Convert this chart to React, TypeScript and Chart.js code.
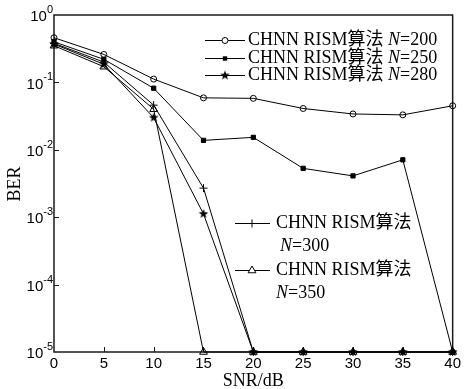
import React, { useEffect, useRef } from 'react';
import { Chart, registerables } from 'chart.js';
Chart.register(...registerables);

const snr = [0, 5, 10, 15, 20, 25, 30, 35, 40];
const ber200 = [0.46, 0.26, 0.112, 0.059, 0.058, 0.041, 0.034, 0.033, 0.045];
const ber250 = [0.4, 0.22, 0.082, 0.0138, 0.0153, 0.0053, 0.0041, 0.0071, 1e-5];
const ber280 = [0.37, 0.186, 0.03, 0.00112, 1e-5, 1e-5, 1e-5, 1e-5, 1e-5];
const ber300 = [0.38, 0.2, 0.046, 0.0027, 1e-5, 1e-5, 1e-5, 1e-5, 1e-5];
const ber350 = [0.35, 0.171, 0.04, 1e-5, 1e-5, 1e-5, 1e-5, 1e-5, 1e-5];
const yDecades = [0, -1, -2, -3, -4, -5];
const xTicks = [0, 5, 10, 15, 20, 25, 30, 35, 40];
const legendTop = ['200', '250', '280'];
const legendBottom = ['300', '350'];
const algName = 'CHNN RISM算法';

const SERIF = '"Liberation Serif", "Times New Roman", "Noto Sans CJK SC", serif';
const SANS = '"Liberation Sans", Arial, sans-serif';

function makeStar(): HTMLCanvasElement {
  const c = document.createElement('canvas');
  c.width = 12;
  c.height = 12;
  const g = c.getContext('2d')!;
  g.fillStyle = '#000';
  g.beginPath();
  for (let i = 0; i < 10; i++) {
    const r = i % 2 === 0 ? 5 : 2.1;
    const a = -Math.PI / 2 + (i * Math.PI) / 5;
    const px = 6 + r * Math.cos(a);
    const py = 6 + r * Math.sin(a);
    if (i === 0) g.moveTo(px, py);
    else g.lineTo(px, py);
  }
  g.closePath();
  g.fill();
  return c;
}

function drawMarker(ctx: CanvasRenderingContext2D, kind: string, x: number, y: number, star: HTMLCanvasElement) {
  ctx.save();
  ctx.strokeStyle = '#000';
  ctx.fillStyle = '#000';
  ctx.lineWidth = 1;
  ctx.beginPath();
  if (kind === 'circle') {
    ctx.arc(x, y, 3, 0, Math.PI * 2);
    ctx.fillStyle = '#fff';
    ctx.fill();
    ctx.stroke();
  } else if (kind === 'rect') {
    ctx.fillRect(x - 2.2, y - 2.2, 4.4, 4.4);
  } else if (kind === 'star') {
    ctx.drawImage(star, x - 6, y - 6);
  } else if (kind === 'cross') {
    ctx.moveTo(x - 4, y);
    ctx.lineTo(x + 4, y);
    ctx.moveTo(x, y - 4);
    ctx.lineTo(x, y + 4);
    ctx.stroke();
  } else if (kind === 'triangle') {
    const r = 4.5;
    let a = 0;
    ctx.moveTo(x + Math.sin(a) * r, y - Math.cos(a) * r);
    a += (2 * Math.PI) / 3;
    ctx.lineTo(x + Math.sin(a) * r, y - Math.cos(a) * r);
    a += (2 * Math.PI) / 3;
    ctx.lineTo(x + Math.sin(a) * r, y - Math.cos(a) * r);
    ctx.closePath();
    ctx.fillStyle = '#fff';
    ctx.fill();
    ctx.stroke();
  }
  ctx.restore();
}

function drawNLabel(ctx: CanvasRenderingContext2D, x: number, y: number, prefix: string, val: string) {
  ctx.save();
  ctx.fillStyle = '#000';
  ctx.textBaseline = 'middle';
  ctx.textAlign = 'left';
  let cx = x;
  if (prefix) {
    ctx.font = `18px ${SERIF}`;
    ctx.fillText(prefix, cx, y);
    cx += ctx.measureText(prefix).width;
  }
  ctx.font = `italic 18px ${SERIF}`;
  ctx.fillText('N', cx, y);
  cx += ctx.measureText('N').width;
  ctx.font = `18px ${SERIF}`;
  ctx.fillText('=' + val, cx, y);
  ctx.restore();
}

export default function App() {
  const ref = useRef<HTMLCanvasElement>(null);
  useEffect(() => {
    const star = makeStar();
    const series = [
      { n: '200', data: ber200, style: 'circle', radius: 3, bg: 'rgba(255,255,255,0)' },
      { n: '250', data: ber250, style: 'rect', radius: 3, bg: '#000' },
      { n: '280', data: ber280, style: star as any, radius: 5, bg: '#000' },
      { n: '300', data: ber300, style: 'cross', radius: 4, bg: 'rgba(0,0,0,0)' },
      { n: '350', data: ber350, style: 'triangle', radius: 4.5, bg: 'rgba(255,255,255,0)' },
    ];
    const markerKinds: Record<string, string> = { '200': 'circle', '250': 'rect', '280': 'star', '300': 'cross', '350': 'triangle' };

    const framePlugin = {
      id: 'frame',
      beforeDatasetsDraw(chart: any) {
        const ctx = chart.ctx as CanvasRenderingContext2D;
        const { left, right, top, bottom } = chart.chartArea;
        const xs = chart.scales.x;
        const ys = chart.scales.y;
        ctx.save();
        ctx.strokeStyle = '#1a1a1a';
        ctx.lineWidth = 1.5;
        ctx.strokeRect(left, top, right - left, bottom - top);
        ctx.lineWidth = 1;
        ctx.beginPath();
        xTicks.slice(1, -1).forEach((v) => {
          const px = Math.round(xs.getPixelForValue(v)) + 0.5;
          ctx.moveTo(px, bottom);
          ctx.lineTo(px, bottom - 5);
        });
        yDecades.slice(1, -1).forEach((e) => {
          const py = Math.round(ys.getPixelForValue(Math.pow(10, e))) + 0.5;
          ctx.moveTo(left, py);
          ctx.lineTo(left + 5, py);
        });
        ctx.stroke();
        ctx.restore();
      },
      afterDraw(chart: any) {
        const ctx = chart.ctx as CanvasRenderingContext2D;
        const { left, right } = chart.chartArea;
        const ys = chart.scales.y;
        ctx.save();
        ctx.fillStyle = '#000';
        yDecades.forEach((e) => {
          const py = ys.getPixelForValue(Math.pow(10, e));
          const exp = String(e);
          ctx.font = `11px ${SANS}`;
          const ew = ctx.measureText(exp).width;
          ctx.textAlign = 'right';
          ctx.textBaseline = 'middle';
          ctx.fillText(exp, left - 1, py - 5);
          ctx.font = `15px ${SANS}`;
          ctx.fillText('10', left - 1 - ew, py + 2);
        });
        ctx.font = `18px ${SERIF}`;
        ctx.textAlign = 'center';
        ctx.textBaseline = 'middle';
        ctx.fillText('SNR/dB', (left + right) / 2, 381);
        ctx.save();
        ctx.translate(15, 184);
        ctx.rotate(-Math.PI / 2);
        ctx.fillText('BER', 0, 0);
        ctx.restore();

        const rowsTop = [40, 58, 75];
        legendTop.forEach((n, i) => {
          const y = rowsTop[i];
          ctx.save();
          ctx.strokeStyle = '#000';
          ctx.lineWidth = 1;
          ctx.beginPath();
          ctx.moveTo(205, y + 0.5);
          ctx.lineTo(245, y + 0.5);
          ctx.stroke();
          ctx.restore();
          drawMarker(ctx, markerKinds[n], 225, y + 0.5, star);
          drawNLabel(ctx, 248, y, algName + ' ', n);
        });
        const rowsBottom = [
          { y: 223, ny: 246, nx: 280 },
          { y: 270, ny: 293, nx: 276 },
        ];
        legendBottom.forEach((n, i) => {
          const r = rowsBottom[i];
          ctx.save();
          ctx.strokeStyle = '#000';
          ctx.lineWidth = 1;
          ctx.beginPath();
          ctx.moveTo(235, r.y + 0.5);
          ctx.lineTo(270, r.y + 0.5);
          ctx.stroke();
          ctx.fillStyle = '#000';
          ctx.font = `18px ${SERIF}`;
          ctx.textAlign = 'left';
          ctx.textBaseline = 'middle';
          ctx.fillText(algName, 276, r.y);
          ctx.restore();
          drawMarker(ctx, markerKinds[n], 252, r.y + 0.5, star);
          drawNLabel(ctx, r.nx, r.ny, '', n);
        });
        ctx.restore();
      },
    };

    const chart = new Chart(ref.current!, {
      type: 'line',
      data: {
        datasets: series.map((s) => ({
          label: 'N=' + s.n,
          data: snr.map((x, i) => ({ x, y: s.data[i] })),
          borderColor: '#000',
          borderWidth: 1,
          backgroundColor: s.bg,
          pointStyle: s.style,
          pointRadius: s.radius,
          pointBorderWidth: 1,
          pointBorderColor: '#000',
          pointBackgroundColor: s.bg,
          tension: 0,
          fill: false,
          clip: false as any,
        })),
      },
      options: {
        responsive: false,
        animation: false,
        devicePixelRatio: 1,
        layout: { padding: { top: 15, right: 10, left: 0, bottom: 0 } },
        plugins: { legend: { display: false }, tooltip: { enabled: false } },
        scales: {
          x: {
            type: 'linear',
            min: 0,
            max: 40,
            grid: { display: false, drawTicks: false, tickLength: 0 },
            border: { display: false },
            afterBuildTicks: (scale: any) => {
              scale.ticks = xTicks.map((v) => ({ value: v }));
            },
            ticks: {
              autoSkip: false,
              maxRotation: 0,
              padding: 3,
              color: '#000',
              font: { family: SANS, size: 15 },
            },
            afterFit: (scale: any) => {
              scale.height = 37;
            },
          },
          y: {
            type: 'logarithmic',
            min: 1e-5,
            max: 1,
            grid: { display: false, drawTicks: false },
            border: { display: false },
            ticks: { display: false },
            afterBuildTicks: (scale: any) => {
              scale.ticks = yDecades.map((e) => ({ value: Math.pow(10, e) }));
            },
            afterFit: (scale: any) => {
              scale.width = 54;
            },
          },
        },
      },
      plugins: [framePlugin],
    });
    return () => chart.destroy();
  }, []);
  return (
    <div style={{ position: 'absolute', left: 0, top: 0, width: 464, height: 389, background: '#fff' }}>
      <canvas ref={ref} width={464} height={389} style={{ display: 'block', width: 464, height: 389 }} />
    </div>
  );
}
